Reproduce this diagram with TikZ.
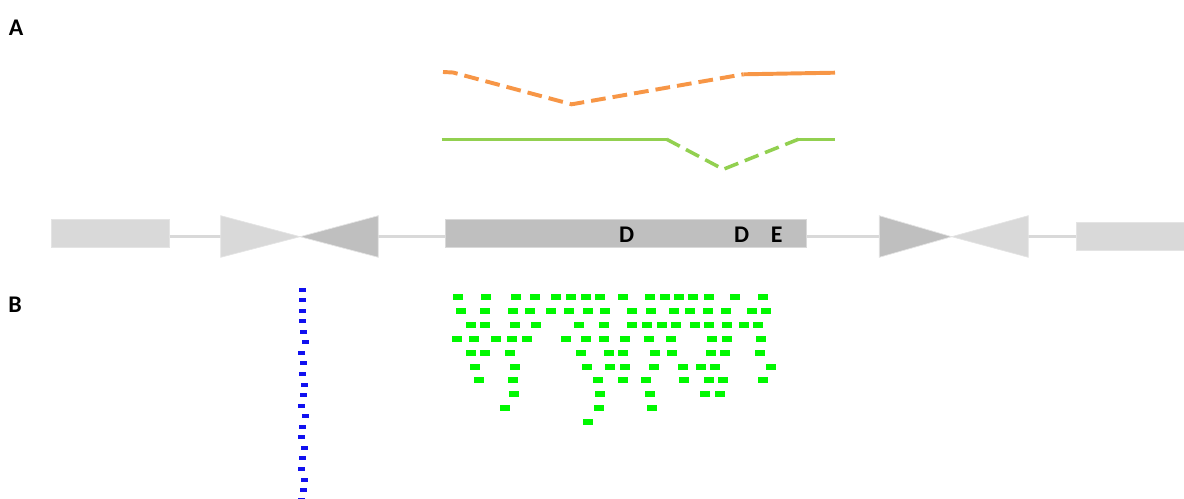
\documentclass[tikz,border=0pt]{standalone}
\usepackage{fontspec}
\setsansfont{Carlito}
\usepackage{tikz}
\usetikzlibrary{positioning}

\definecolor{exonlight}{HTML}{D9D9D9}
\definecolor{exondark}{HTML}{BFBFBF}
\definecolor{isoorange}{HTML}{F79646}
\definecolor{isogreen}{HTML}{92D050}
\definecolor{readgreen}{HTML}{00F800}
\definecolor{readblue}{HTML}{1010F0}

\begin{document}
\begin{tikzpicture}[
    x=0.025cm, y=-0.025cm,
    lexon/.style={draw=exonlight!70!white, fill=exonlight, line width=0.6pt, inner sep=0pt, minimum height=0.7cm},
    dexon/.style={draw=exonlight, fill=exondark, line width=0.6pt, inner sep=0pt, minimum height=0.7cm},
    ltri/.style={draw=exonlight!70!white, fill=exonlight, line width=0.5pt},
    dtri/.style={draw=exonlight!70!white, fill=exondark, line width=0.5pt},
    intron/.style={draw=exonlight, line width=2.1pt},
    iso/.style={line width=2.8pt},
    isodash/.style={line width=2.8pt, dash pattern=on 10.5pt off 5pt},
    gread/.style={fill=readgreen},
    bread/.style={fill=readblue},
    label/.style={font=\sffamily\bfseries\fontsize{17}{20}\selectfont, inner sep=0pt}
]
\useasboundingbox (0,0) rectangle (1184,499);

% Panel labels
\node[label] (pa) at (16,28) {A};
\node[label] (pb) at (15,305) {B};

% Isoforms
\draw[isodash, isoorange] (443,72) -- (453,72.5) -- (571.7,104.3) -- (743.3,74.3);
\draw[iso, isoorange] (743.3,74.3) -- (835,72.7);
\draw[iso, isogreen, line width=2.5pt] (441.7,139.3) -- (666.7,139.3);
\draw[isodash, isogreen, line width=2.5pt] (666.7,139.3) -- (723.3,169.3) -- (798.3,139.3);
\draw[iso, isogreen, line width=2.5pt] (798.3,139.3) -- (835,139.3);

% Gene structure
\coordinate (t1) at (220.7,236.7);
\coordinate (t2) at (378.3,236.7);
\coordinate (t3) at (879.3,236.7);
\coordinate (t4) at (1028.3,236.7);
\node[lexon, minimum width=2.94cm] (lexon) at (110.5,233.3) {};
\node[dexon, minimum width=9.04cm] (mexon) at (625.9,233.3) {};
\node[lexon, minimum width=2.7cm] (rexon) at (1130.7,236.8) {};

\draw[intron] (lexon.east |- t1) -- (t1);
\draw[intron] (t2) -- (mexon.west |- t2);
\draw[intron] (mexon.east |- t3) -- (t3);
\draw[intron] (t4) -- (rexon.west |- t4);

\filldraw[ltri] (220.7,215.7) -- (300,236.7) -- (220.7,257.3) -- cycle;
\filldraw[dtri] (378.3,215.7) -- (300,236.7) -- (378.3,257.3) -- cycle;
\filldraw[dtri] (879.3,215.7) -- (951.7,236.7) -- (879.3,257.3) -- cycle;
\filldraw[ltri] (1028.3,215.7) -- (951.7,236.7) -- (1028.3,257.3) -- cycle;

\node[label] (d1) at (626.7,235) {D};
\node[label] (d2) at (741.7,235) {D};
\node[label] (e1) at (776.7,235) {E};

% Reads
\foreach \y/\xs in {297/{458,486,516,535,556,571,586,600,623,650,665,679,693,709,735,763},
    311/{461,485,513,530,551,569,588,605,632,651,674,690,708,726,752,766},
    325/{471,485,515,536,579,604,632,647,662,676,695,709,727,744,758},
    338.5/{457,474,496,512,527,566,586,604,625,649,671,712,727,761},
    352.5/{471,485,510,581,609,623,655,672,711,725,760},
    366.5/{475,515,587,610,625,654,683,701,715,771},
    380/{479,513,598,623,646,684,709,723,763},
    394/{514,600,650,705,720},
    408/{505,599,652},
    422/{588}}
    \foreach \x in \xs
        \fill[gread] (\x-5,\y-3) rectangle (\x+5,\y+3);

\foreach \x/\y in {302/289.7, 302.7/300, 302/310.7, 302.7/321, 303.7/331.7, 305/342.3,
    301.3/352.7, 303.7/363.3, 302/374, 304.3/384.7, 303.7/395, 301.7/405.7, 305/416.3,
    302.3/426.7, 301.7/437.3, 304.3/448, 302.7/458.3, 301/469, 304.7/479.7, 303.3/490.3, 301.7/499.5}
    \fill[bread] (\x-3.5,\y-2) rectangle (\x+3.5,\y+2);

\end{tikzpicture}
\end{document}
